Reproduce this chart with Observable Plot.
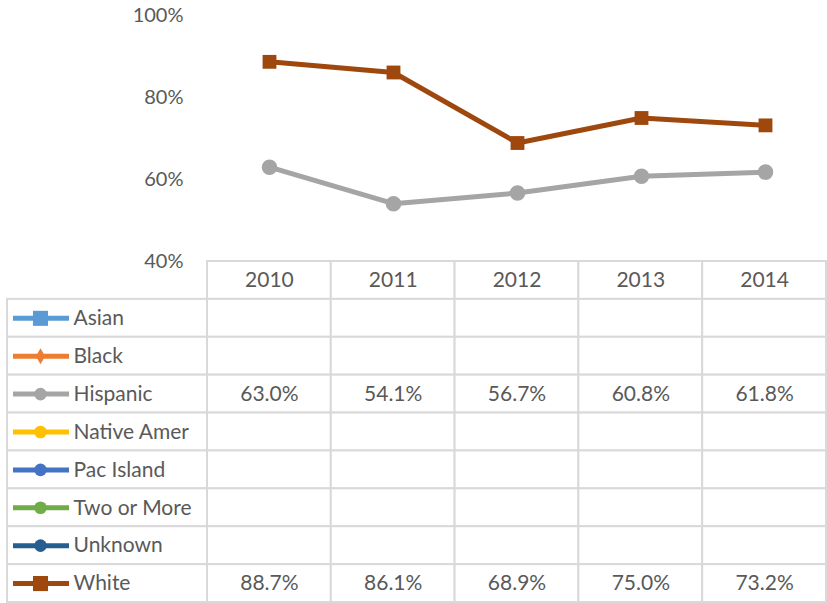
<!DOCTYPE html>
<html>
<head>
<meta charset="utf-8">
<script src="https://cdn.jsdelivr.net/npm/d3@7"></script>
<script src="https://cdn.jsdelivr.net/npm/@observablehq/plot@0.6"></script>
<style>
  html, body { margin: 0; padding: 0; background: white; overflow: hidden; }
  #wrap { position: relative; width: 827px; height: 603px; }
  #chart { position: absolute; left: 0; top: 0; width: 827px; height: 261px; }
  #tleft { position: absolute; left: 0; top: 260px; width: 207px; height: 343px; }
  #tright { position: absolute; left: 207px; top: 260px; width: 620px; height: 343px; }
  #wrap svg { display: block; max-width: none !important; }
  #chart svg { width: 827px !important; height: 261px !important; }
  #tleft svg { width: 207px !important; height: 343px !important; }
  #tright svg { width: 620px !important; height: 343px !important; }
</style>
</head>
<body>
<div id="wrap">
  <div id="tleft"></div>
  <div id="tright"></div>
  <div id="chart"></div>
</div>
<script>
const years = ["2010", "2011", "2012", "2013", "2014"];
const seriesNames = ["Asian", "Black", "Hispanic", "Native Amer", "Pac Island", "Two or More", "Unknown", "White"];
const seriesColors = ["#5B9BD5", "#ED7D31", "#A5A5A5", "#FFC000", "#4472C4", "#70AD47", "#255E91", "#9E480E"];
const seriesSymbols = ["square", "diamond", "circle", "circle", "circle", "circle", "circle", "square"];
const asian = [null, null, null, null, null];
const black = [null, null, null, null, null];
const hispanic = [63.0, 54.1, 56.7, 60.8, 61.8];
const nativeAmer = [null, null, null, null, null];
const pacIsland = [null, null, null, null, null];
const twoOrMore = [null, null, null, null, null];
const unknown = [null, null, null, null, null];
const white = [88.7, 86.1, 68.9, 75.0, 73.2];
const yTicks = [40, 60, 80, 100];
const headerKey = "Year";

const seriesValues = [asian, black, hispanic, nativeAmer, pacIsland, twoOrMore, unknown, white];
const points = [];
seriesNames.forEach((s, i) => years.forEach((y, j) => points.push({series: s, year: y, value: seriesValues[i][j]})));
const present = points.filter(d => d.value != null);
const symOf = s => seriesSymbols[seriesNames.indexOf(s)];

const textColor = "#595959";
const grid = "#D9D9D9";
const font = "Lato, 'Open Sans', sans-serif";

const colorScale = {domain: seriesNames, range: seriesColors};
const symbolScale = {domain: seriesNames, range: seriesSymbols};

const chart = Plot.plot({
  width: 827, height: 261,
  marginLeft: 207, marginRight: 0, marginTop: 15, marginBottom: 0,
  style: {fontFamily: font, fontSize: "20px", color: textColor, background: "transparent", overflow: "visible"},
  x: {type: "band", domain: years, padding: 0, round: false, axis: null},
  y: {domain: [40, 100], ticks: yTicks, tickFormat: d => d + "%", tickSize: 0, tickPadding: 24, label: null},
  color: colorScale,
  symbol: symbolScale,
  marks: [
    Plot.line(present, {x: "year", y: "value", stroke: "series", z: "series", strokeWidth: 5}),
    Plot.dot(present, {x: "year", y: "value", fill: "series", symbol: "series", r: 7.8, stroke: "none"})
  ]
});
document.getElementById("chart").appendChild(chart);

const rowKeys = [headerKey, ...seriesNames];
const tableH = 343;

const left = Plot.plot({
  width: 207, height: tableH,
  marginLeft: 7, marginRight: 0, marginTop: 1, marginBottom: 1,
  style: {fontFamily: font, fontSize: "21px", color: textColor, background: "transparent", overflow: "visible"},
  y: {type: "band", domain: rowKeys, padding: 0, round: false, axis: null},
  color: colorScale,
  symbol: symbolScale,
  marks: [
    Plot.cell(seriesNames, {y: d => d, stroke: grid, strokeWidth: 2, fill: "white", inset: 0}),
    Plot.ruleY(seriesNames, {y: d => d, stroke: d => d, strokeWidth: 5, insetLeft: 6, insetRight: 138}),
    Plot.dot(seriesNames, {filter: s => symOf(s) === "circle", y: d => d, fill: d => d, symbol: d => d, r: 6.3, frameAnchor: "left", dx: 33}),
    Plot.dot(seriesNames, {filter: s => symOf(s) === "square", y: d => d, fill: d => d, symbol: d => d, r: 8.5, frameAnchor: "left", dx: 33}),
    Plot.dot(seriesNames, {filter: s => symOf(s) === "diamond", y: d => d, fill: d => d, symbol: d => d, r: 4.8, frameAnchor: "left", dx: 33}),
    Plot.text(seriesNames, {y: d => d, text: d => d, frameAnchor: "left", dx: 66, textAnchor: "start", fill: textColor})
  ]
});

const right = Plot.plot({
  width: 620, height: tableH,
  marginLeft: 0, marginRight: 1, marginTop: 1, marginBottom: 1,
  style: {fontFamily: font, fontSize: "21px", color: textColor, background: "transparent", overflow: "visible"},
  x: {type: "band", domain: years, padding: 0, round: false, axis: null},
  y: {type: "band", domain: rowKeys, padding: 0, round: false, axis: null},
  marks: [
    Plot.cell(years, {x: d => d, y: () => headerKey, stroke: grid, strokeWidth: 2, fill: "white", inset: 0}),
    Plot.cell(points, {x: "year", y: "series", stroke: grid, strokeWidth: 2, fill: "white", inset: 0}),
    Plot.text(years, {x: d => d, y: () => headerKey, text: d => d, fill: textColor}),
    Plot.text(present, {x: "year", y: "series", text: d => d.value.toFixed(1) + "%", fill: textColor})
  ]
});
document.getElementById("tleft").appendChild(left);
document.getElementById("tright").appendChild(right);
</script>
</body>
</html>
